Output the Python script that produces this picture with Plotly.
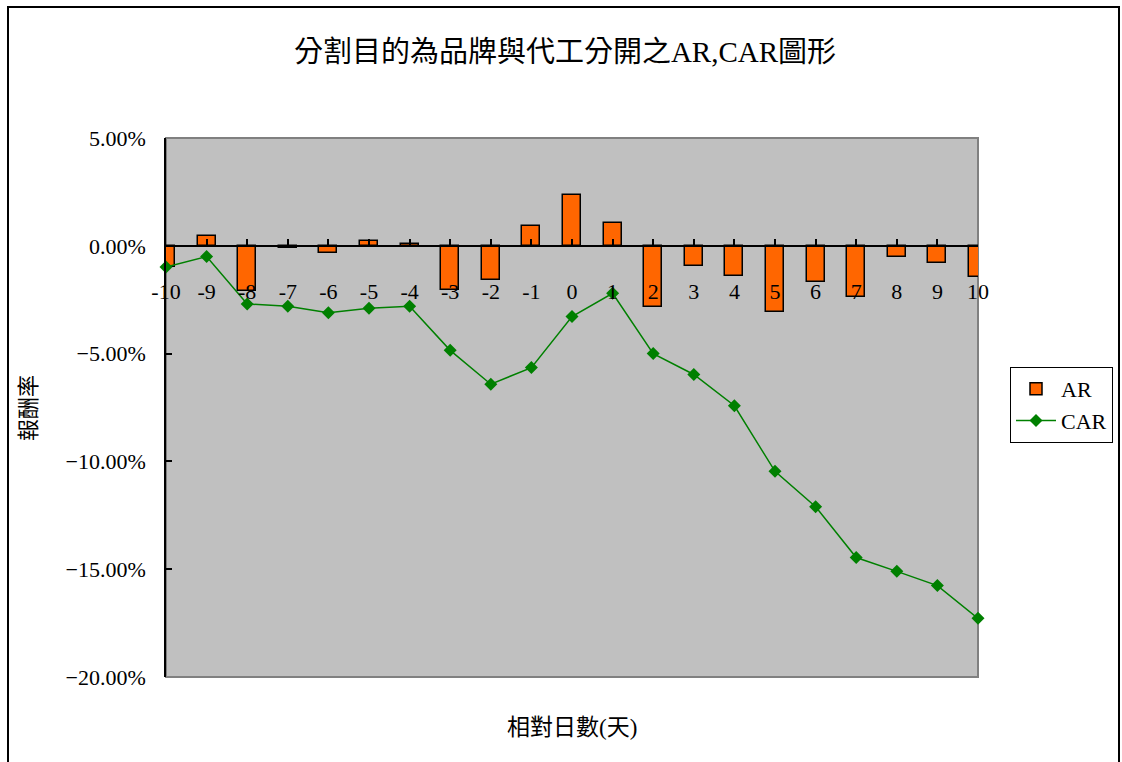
import plotly.graph_objects as go

# Event-window days and returns
days = list(range(-10, 11))
ar = [-0.0100, 0.0045, -0.0211, -0.0008, -0.0034, 0.0022, 0.0008, -0.0205, -0.0160,
      0.0093, 0.0237, 0.0107, -0.0283, -0.0093, -0.0140, -0.0306, -0.0169, -0.0239,
      -0.0054, -0.0078, -0.0146]
car = [-0.0098, -0.0050, -0.0270, -0.0280, -0.0310, -0.0290, -0.0280, -0.0485, -0.0642,
       -0.0565, -0.0328, -0.0220, -0.0500, -0.0597, -0.0742, -0.1046, -0.1210, -0.1446,
       -0.1510, -0.1576, -0.1728]
y_ticks = [0.05, 0.0, -0.05, -0.10, -0.15, -0.20]

title_text = "分割目的為品牌與代工分開之AR,CAR圖形"
x_title = "相對日數(天)"
y_title = "報酬率"

serif = "Liberation Serif, 'Noto Sans CJK TC', serif"

fig = go.Figure()
fig.add_trace(go.Bar(
    x=days, y=ar, name="AR", width=0.44,
    marker=dict(color="#FF6600", line=dict(color="black", width=1.5)),
))
fig.add_trace(go.Scatter(
    x=days, y=car, name="CAR", mode="lines+markers", cliponaxis=False,
    line=dict(color="#008000", width=1.5),
    marker=dict(symbol="diamond", size=10, color="#008000"),
))

y_min, y_max = -0.20, 0.05
zero_pos = (0 - y_min) / (y_max - y_min)

fig.update_layout(
    width=1122, height=762,
    margin=dict(l=166, r=144, t=138, b=85, autoexpand=False),
    paper_bgcolor="white",
    plot_bgcolor="#C0C0C0",
    font=dict(family=serif, color="black", size=22),
    title=dict(text=title_text, x=565 / 1122, xanchor="center", xref="container",
               y=1 - 52 / 762, yanchor="middle", yref="container",
               font=dict(family=serif, size=29, color="black")),
    xaxis=dict(
        range=[-10, 10], tickmode="array", tickvals=days,
        ticktext=[str(d) for d in days],
        anchor="free", position=zero_pos,
        showline=True, linecolor="black", linewidth=1.5,
        ticks="inside", ticklen=6, tickcolor="black", tickwidth=1.5,
        ticklabelstandoff=26,
        showgrid=False, zeroline=False,
        tickfont=dict(family=serif, size=22, color="black"),
    ),
    yaxis=dict(
        range=[y_min, y_max], tickmode="array", tickvals=y_ticks,
        tickformat=".2%",
        showline=True, linecolor="black", linewidth=1.5,
        ticks="inside", ticklen=6, tickcolor="black", tickwidth=1.5,
        ticklabelstandoff=14,
        showgrid=False, zeroline=False,
        tickfont=dict(family=serif, size=22, color="black"),
    ),
    bargap=0,
    legend=dict(
        x=(1010 - 166) / 812, xanchor="left",
        y=(677 - 367) / 539, yanchor="top",
        bgcolor="white", bordercolor="black", borderwidth=1,
        font=dict(family=serif, size=22, color="black"),
        itemwidth=40, tracegroupgap=6,
    ),
    shapes=[
        # plot-area frame
        dict(type="rect", xref="paper", yref="paper", x0=0, x1=1, y0=0, y1=1,
             line=dict(color="#808080", width=2), layer="below"),
        # outer chart frame
        dict(type="rect", xref="paper", yref="paper",
             x0=(8 - 166) / 812, x1=(1119 - 166) / 812,
             y0=(677 - 780) / 539, y1=(677 - 7) / 539,
             line=dict(color="black", width=2)),
    ],
    annotations=[
        dict(text=x_title, xref="paper", yref="paper",
             x=(572 - 166) / 812, y=(677 - 727) / 539,
             xanchor="center", yanchor="middle", showarrow=False,
             font=dict(family=serif, size=23, color="black")),
        dict(text=y_title, xref="paper", yref="paper",
             x=(28 - 166) / 812, y=(677 - 408) / 539, textangle=-90,
             xanchor="center", yanchor="middle", showarrow=False,
             font=dict(family=serif, size=22, color="black")),
    ],
)

fig.write_html("out.html")
